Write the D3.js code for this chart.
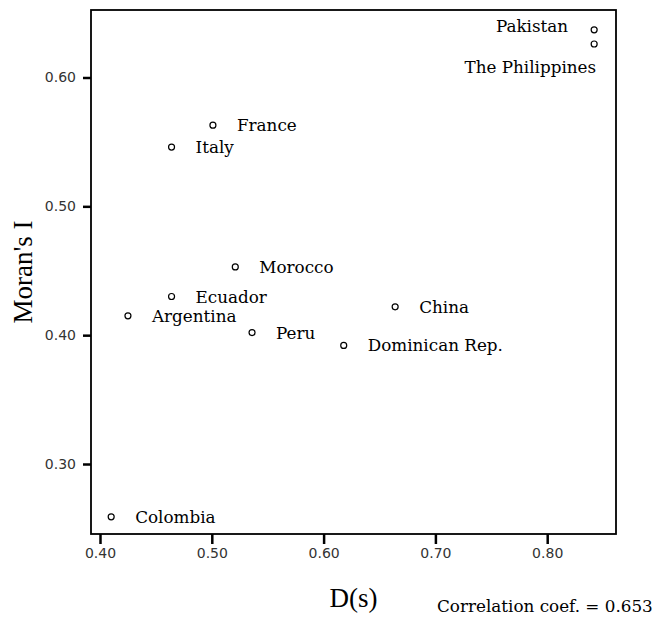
<!DOCTYPE html>
<html>
<head>
<meta charset="utf-8">
<script src="https://cdn.jsdelivr.net/npm/d3@7/dist/d3.min.js"></script>
<style>
  html, body { margin: 0; padding: 0; background: #fff; }
  svg { display: block; }
</style>
</head>
<body>
<svg id="chart" width="654" height="617"></svg>
<script>
// ---- data ----
const countries = ["Pakistan", "The Philippines", "France", "Italy", "Morocco", "Ecuador",
                   "Argentina", "Peru", "Dominican Rep.", "China", "Colombia"];
const dsValues    = [0.842, 0.842, 0.501, 0.464, 0.521, 0.464, 0.425, 0.536, 0.618, 0.664, 0.410];
const moranValues = [0.637, 0.626, 0.563, 0.546, 0.453, 0.430, 0.415, 0.402, 0.392, 0.422, 0.259];
const xTicks = [0.40, 0.50, 0.60, 0.70, 0.80];
const yTicks = [0.30, 0.40, 0.50, 0.60];
const xTitle = "D(s)";
const yTitle = "Moran's I";
const note = "Correlation coef. = 0.653";

// ---- layout ----
const svg = d3.select("#chart");
const L = 91, T = 10, R = 616, B = 534;

const x = d3.scaleLinear().domain([0.39195, 0.86154]).range([L, R]);
const y = d3.scaleLinear().domain([0.24567, 0.65239]).range([B, T]);

const labelFont = "'DejaVu Serif', serif";
const titleFont = "'Liberation Serif', 'Times New Roman', serif";
const sans = "'DejaVu Sans', sans-serif";

// axes
const xAxis = d3.axisBottom(x).tickValues(xTicks).tickFormat(d3.format(".2f"))
  .tickSize(10).tickPadding(4);
const yAxis = d3.axisLeft(y).tickValues(yTicks).tickFormat(d3.format(".2f"))
  .tickSize(8).tickPadding(7);

const gx = svg.append("g").attr("transform", `translate(0,${B})`).call(xAxis);
const gy = svg.append("g").attr("transform", `translate(${L},0)`).call(yAxis);
[gx, gy].forEach(g => {
  g.select(".domain").remove();
  g.selectAll(".tick line").attr("stroke", "#000").attr("stroke-width", 2.5);
  g.selectAll(".tick text").attr("fill", "#333").style("font-family", sans).style("font-size", "14px");
});

// frame
svg.append("rect")
  .attr("x", L).attr("y", T).attr("width", R - L).attr("height", B - T)
  .attr("fill", "none").attr("stroke", "#000").attr("stroke-width", 1.8);

// points
const data = countries.map((c, i) => ({ name: c, ds: dsValues[i], m: moranValues[i] }));

svg.append("g").selectAll("circle").data(data).join("circle")
  .attr("cx", d => x(d.ds)).attr("cy", d => y(d.m)).attr("r", 3)
  .attr("fill", "#fff").attr("stroke", "#000").attr("stroke-width", 1.2);

// labels
svg.append("g").selectAll("text").data(data).join("text")
  .attr("x", d => {
    if (d.name === "Pakistan") return x(d.ds) - 26;
    if (d.name === "The Philippines") return x(d.ds) + 2;
    return x(d.ds) + 24;
  })
  .attr("y", d => {
    if (d.name === "Pakistan") return y(d.m) + 2.5;
    if (d.name === "The Philippines") return y(d.m) + 29;
    return y(d.m) + 6;
  })
  .attr("text-anchor", d => (d.name === "Pakistan" || d.name === "The Philippines") ? "end" : "start")
  .style("font-family", labelFont).style("font-size", "16.8px").attr("fill", "#000")
  .text(d => d.name);

// axis titles
svg.append("text")
  .attr("x", (L + R) / 2).attr("y", 607).attr("text-anchor", "middle")
  .style("font-family", titleFont).style("font-size", "27px").text(xTitle);

svg.append("text")
  .attr("transform", `translate(32,${(T + B) / 2}) rotate(-90)`)
  .attr("text-anchor", "middle")
  .style("font-family", titleFont).style("font-size", "27px").text(yTitle);

svg.append("text")
  .attr("x", 437).attr("y", 612)
  .style("font-family", labelFont).style("font-size", "16.8px").text(note);
</script>
</body>
</html>
